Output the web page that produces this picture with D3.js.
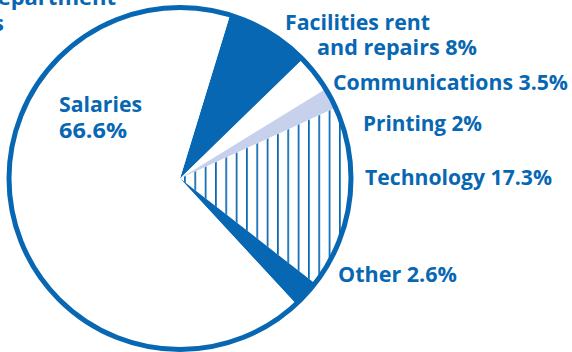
<!DOCTYPE html>
<html>
<head>
<meta charset="utf-8">
<script src="https://cdn.jsdelivr.net/npm/d3@7"></script>
<style>
  html, body { margin: 0; padding: 0; background: #ffffff; }
  svg { display: block; }
  text { font-family: "Open Sans", Roboto, "Noto Sans", sans-serif; font-weight: 700; }
</style>
</head>
<body>
<svg id="chart" width="572" height="352"></svg>
<script>
// Budget shares by category, clockwise from the top-right wedge
const categories = ["Facilities rent and repairs", "Communications", "Printing", "Technology", "Other", "Salaries"];
const shares = [8, 3.5, 2, 17.3, 2.6, 66.6];
// Label text, broken into lines
const labelLines = [
  ["Facilities rent", "and repairs 8%"],
  ["Communications 3.5%"],
  ["Printing 2%"],
  ["Technology 17.3%"],
  ["Other 2.6%"],
  ["Salaries", "66.6%"]
];
const titleLines = ["Spending by department", "Operating expenses"];

const BLUE = "#0867b3";
const LAVENDER = "#c7d1ec";

const svg = d3.select("#chart");
const cx = 180, cy = 178.5, r = 171;

// Vertical-stripe hatch for the technology wedge
const defs = svg.append("defs");
const hatch = defs.append("pattern")
  .attr("id", "vstripes")
  .attr("patternUnits", "userSpaceOnUse")
  .attr("x", 190)
  .attr("y", 0)
  .attr("width", 10.33)
  .attr("height", 20);
hatch.append("rect").attr("width", 10.33).attr("height", 20).attr("fill", "#ffffff");
hatch.append("rect").attr("x", 0).attr("width", 1.7).attr("height", 20).attr("fill", BLUE);

const fills = ["blue", "white", "lavender", "hatch", "blue", "white"];
const fillFor = k => ({ blue: BLUE, white: "#ffffff", lavender: LAVENDER, hatch: "url(#vstripes)" })[k];

const start = 17 * Math.PI / 180;
const pie = d3.pie().sort(null).value(d => d.value)
  .startAngle(start).endAngle(start + 2 * Math.PI);
const arc = d3.arc().innerRadius(0).outerRadius(r);

const data = categories.map((c, i) => ({ name: c, value: shares[i], fill: fills[i] }));

const g = svg.append("g").attr("transform", `translate(${cx},${cy})`);
g.selectAll("path.slice")
  .data(pie(data))
  .join("path")
  .attr("class", "slice")
  .attr("d", arc)
  .attr("fill", d => fillFor(d.data.fill));

// Outer rim
g.append("circle").attr("r", r).attr("fill", "none").attr("stroke", BLUE).attr("stroke-width", 5);

// Label placement: left x of each line, baseline, line gap and set width
const labelPos = [
  { x: [285, 317], y: 30, dy: 25, w: [145, 160] },
  { x: [333], y: 90, dy: 0, w: [235] },
  { x: [363], y: 131, dy: 0, w: [119] },
  { x: [365], y: 185, dy: 0, w: [187] },
  { x: [338], y: 282, dy: 0, w: [119] },
  { x: [59, 59], y: 112, dy: 26, w: [83, 68] }
];
labelLines.forEach((lines, i) => {
  const p = labelPos[i];
  lines.forEach((line, j) => {
    svg.append("text")
      .attr("fill", BLUE)
      .attr("font-size", 21)
      .attr("x", p.x[j])
      .attr("y", p.y + j * p.dy)
      .attr("textLength", p.w[j])
      .attr("lengthAdjust", "spacingAndGlyphs")
      .text(line);
  });
});

// Title block, running off the top-left edge
const title = svg.append("text").attr("fill", BLUE).attr("font-size", 22).attr("text-anchor", "end");
title.append("tspan").attr("x", 116).attr("y", 5).text(titleLines[0]);
title.append("tspan").attr("x", 4).attr("y", 31).text(titleLines[1]);
</script>
</body>
</html>
